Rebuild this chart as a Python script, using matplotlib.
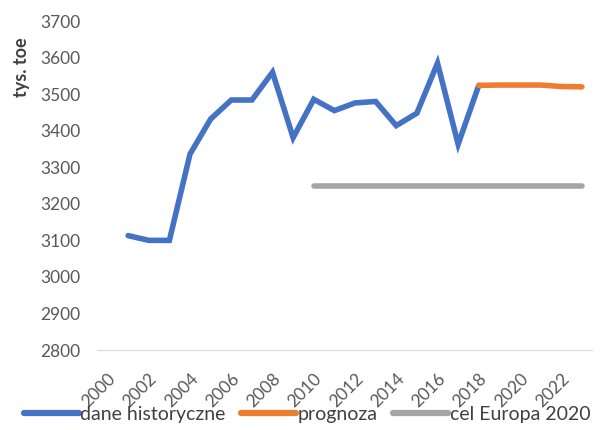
import matplotlib.pyplot as plt
import numpy as np

plt.rcParams['font.family'] = ['Lato', 'DejaVu Sans']

years = list(range(2000, 2024))

# historical consumption, 2001-2018
hist_years = list(range(2001, 2019))
hist_vals = [3113, 3100, 3100, 3336, 3432, 3484, 3484, 3560, 3381, 3486,
             3455, 3476, 3480, 3414, 3448, 3585, 3363, 3524]

# forecast, 2018-2023
fc_years = [2018, 2019, 2020, 2021, 2022, 2023]
fc_vals = [3524, 3525, 3525, 3525, 3521, 3520]

# EU 2020 target
target_years = list(range(2010, 2024))
target_vals = [3250] * len(target_years)

blue = '#4472c4'
orange = '#ed7d31'
grey = '#a5a5a5'

def pos(yrs):
    return [years.index(y) for y in yrs]

fig = plt.figure(figsize=(6, 4.3), dpi=100)
ax = fig.add_axes([0.162, 0.186, 0.825, 0.765])

ax.plot(pos(hist_years), hist_vals, color=blue, lw=4, solid_capstyle='round',
        solid_joinstyle='miter', label='dane historyczne')
ax.plot(pos(fc_years), fc_vals, color=orange, lw=4, solid_capstyle='round',
        label='prognoza')
ax.plot(pos(target_years), target_vals, color=grey, lw=4, solid_capstyle='round',
        label='cel Europa 2020')

ax.set_xlim(-0.5, len(years) - 0.5)
ax.set_ylim(2800, 3700)
ax.set_yticks(np.arange(2800, 3701, 100))
ax.set_xticks(range(0, len(years), 2))
ax.set_xticklabels([str(y) for y in years[::2]], rotation=45, ha='right',
                   rotation_mode='anchor')

for s in ['top', 'right', 'left']:
    ax.spines[s].set_visible(False)
ax.spines['bottom'].set_color('#d9d9d9')
ax.tick_params(axis='both', length=0, labelsize=12.5, colors='#595959')
ax.tick_params(axis='y', pad=12)
ax.tick_params(axis='x', pad=15)

ax.text(-0.152, 0.86, 'tys. toe', transform=ax.transAxes, rotation=90,
        ha='center', va='center', fontsize=13, fontweight='bold', color='#404040')

leg = fig.legend(loc='lower center', bbox_to_anchor=(0.512, -0.025), ncol=3, frameon=False,
                 fontsize=14, handlelength=2.8, handletextpad=0.1, columnspacing=0.8)
for t in leg.get_texts():
    t.set_color('#404040')
for h in leg.get_lines():
    h.set_linewidth(4.5)

fig.savefig('out.png', dpi=100)
